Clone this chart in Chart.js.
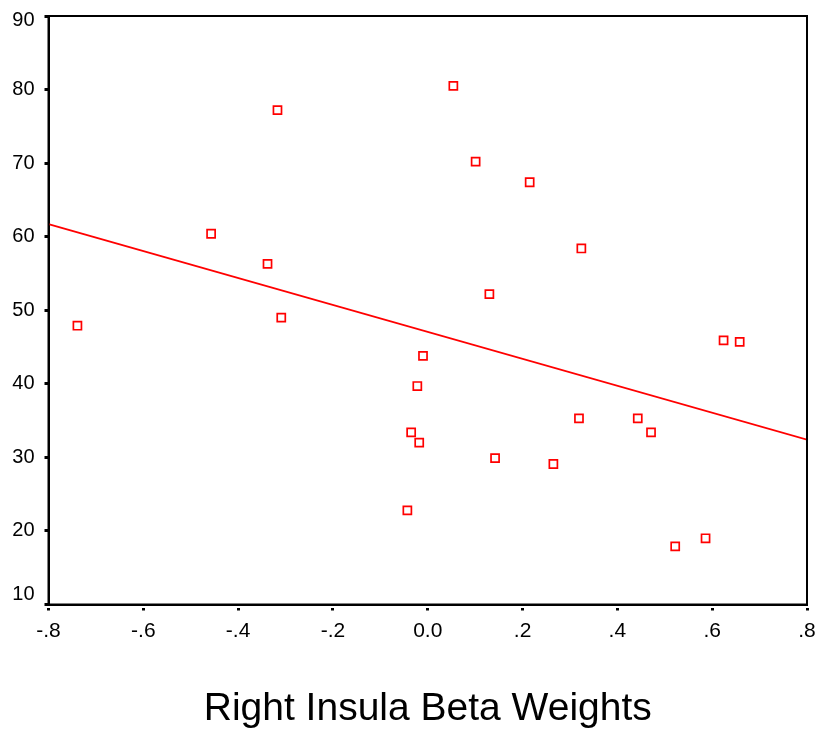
<!DOCTYPE html>
<html>
<head>
<meta charset="utf-8">
<script src="https://cdn.jsdelivr.net/npm/chart.js@4/dist/chart.umd.min.js"></script>
<style>
  html, body { margin: 0; padding: 0; background: #ffffff; }
  canvas { display: block; }
</style>
</head>
<body>
<canvas id="c" width="817" height="736"></canvas>
<script>
// ---- data ----
const betaWeights = [-0.739, -0.457, -0.338, -0.309, -0.317, 0.054, 0.101, 0.215, 0.324, 0.130,
                     -0.010, -0.022, -0.035, -0.018, 0.142, 0.265, 0.319, 0.443, -0.043, 0.471,
                     0.522, 0.586, 0.624, 0.658];
const scores      = [47.9, 60.4, 56.3, 49.0, 77.2, 80.5, 70.2, 67.4, 58.4, 52.2,
                     43.8, 39.7, 33.4, 32.0, 29.9, 29.1, 35.3, 35.3, 22.8, 33.4,
                     17.9, 19.0, 45.9, 45.7];
const fitX = [-0.8, 0.8];
const fitY = [61.7, 32.4];
const xTickValues = [-0.8, -0.6, -0.4, -0.2, 0.0, 0.2, 0.4, 0.6, 0.8];
const xTickLabels = ['-.8', '-.6', '-.4', '-.2', '0.0', '.2', '.4', '.6', '.8'];
const yTickValues = [10, 20, 30, 40, 50, 60, 70, 80, 90];
const xAxisTitle = 'Right Insula Beta Weights';

const RED = '#ff0000';
const FONT = '"Liberation Sans", Arial, sans-serif';

// box round the plot area
const framePlugin = {
  id: 'frame',
  afterDatasetsDraw(chart) {
    const a = chart.chartArea, ctx = chart.ctx;
    ctx.save();
    ctx.strokeStyle = '#000000';
    ctx.lineWidth = 2;
    ctx.strokeRect(a.left, a.top, a.right - a.left, a.bottom - a.top);
    ctx.restore();
  }
};

// keep the end labels of the y axis inside the plot's height, as in the original
const yEndLabels = {
  id: 'yEndLabels',
  beforeDraw(chart) {
    const items = chart.scales.y.getLabelItems();
    if (items.length) {
      items[0].options.translation[1] -= 10;
      items[items.length - 1].options.translation[1] += 4;
    }
  }
};

const noScalePadding = (scale) => {
  scale.paddingLeft = 0; scale.paddingRight = 0;
  scale.paddingTop = 0; scale.paddingBottom = 0;
};

new Chart(document.getElementById('c'), {
  data: {
    datasets: [
      {
        type: 'scatter',
        data: betaWeights.map((x, i) => ({ x: x, y: scores[i] })),
        pointStyle: 'rect',
        pointRadius: 5.7,
        pointBorderWidth: 1.7,
        pointBorderColor: RED,
        pointBackgroundColor: 'rgba(255,255,255,0)',
        pointHoverRadius: 5.7
      },
      {
        type: 'line',
        data: fitX.map((x, i) => ({ x: x, y: fitY[i] })),
        borderColor: RED,
        borderWidth: 1.8,
        pointRadius: 0,
        fill: false
      }
    ]
  },
  plugins: [framePlugin, yEndLabels],
  options: {
    responsive: false,
    animation: false,
    layout: { padding: { top: 16, right: 10, left: 0, bottom: 0 } },
    plugins: { legend: { display: false }, tooltip: { enabled: false } },
    scales: {
      x: {
        type: 'linear',
        min: -0.8,
        max: 0.8,
        afterBuildTicks(scale) { scale.ticks = xTickValues.map(v => ({ value: v })); },
        afterFit(scale) { scale.height = 131.5; noScalePadding(scale); },
        ticks: {
          color: '#000000',
          font: { family: FONT, size: 21 },
          padding: 8,
          maxRotation: 0,
          autoSkip: false,
          callback: (v, i) => xTickLabels[i]
        },
        grid: {
          drawOnChartArea: false,
          drawTicks: true,
          tickLength: 6,
          tickWidth: 3,
          tickColor: '#000000',
          tickBorderDash: [4, 2],
          tickBorderDashOffset: 4
        },
        border: { display: true, color: '#000000', width: 2 },
        title: {
          display: true,
          text: xAxisTitle,
          color: '#000000',
          font: { family: FONT, size: 39 },
          padding: { top: 0, bottom: 3 }
        }
      },
      y: {
        type: 'linear',
        min: 10,
        max: 90,
        afterBuildTicks(scale) { scale.ticks = yTickValues.map(v => ({ value: v })); },
        afterFit(scale) { scale.width = 48.5; noScalePadding(scale); },
        ticks: {
          color: '#000000',
          font: { family: FONT, size: 20 },
          padding: 8,
          autoSkip: false
        },
        grid: {
          drawOnChartArea: false,
          drawTicks: true,
          tickLength: 6,
          tickWidth: 3,
          tickColor: '#000000',
          tickBorderDash: [4, 2],
          tickBorderDashOffset: 4
        },
        border: { display: true, color: '#000000', width: 2 }
      }
    }
  }
});
</script>
</body>
</html>
